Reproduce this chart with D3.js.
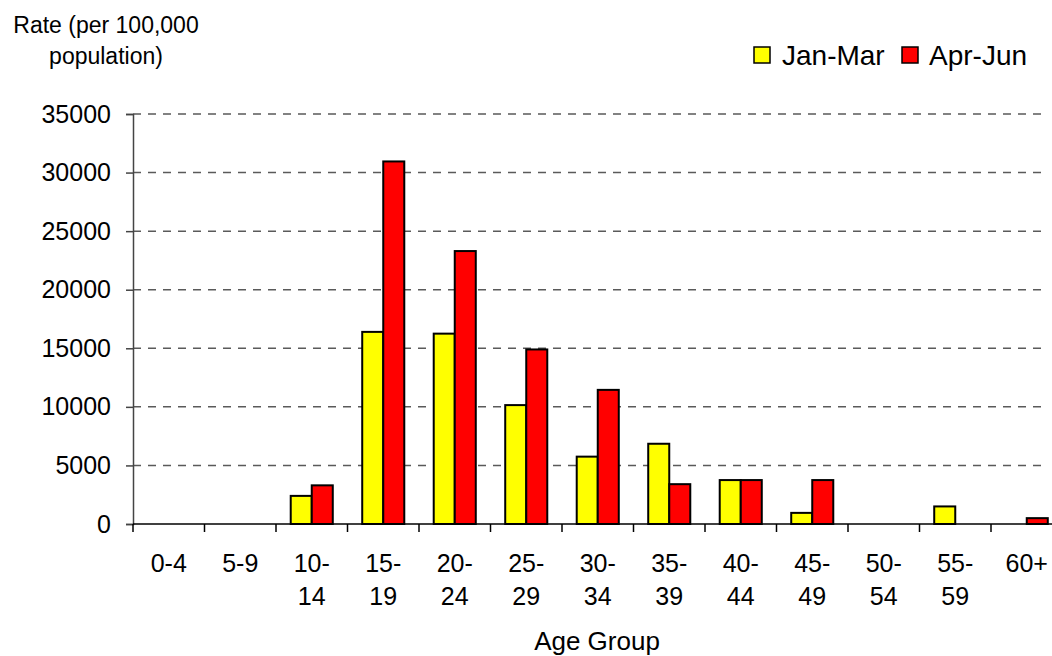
<!DOCTYPE html>
<html>
<head>
<meta charset="utf-8">
<script src="https://cdn.jsdelivr.net/npm/d3@7"></script>
<style>
  html, body { margin: 0; padding: 0; background: #fff; }
  svg { display: block; font-family: "Liberation Sans", Arial, sans-serif; }
</style>
</head>
<body>
<svg id="chart" width="1052" height="656"></svg>
<script>
// Age groups, with two-line labels as shown under the axis
const categories = ["0-4", "5-9", "10-14", "15-19", "20-24", "25-29", "30-34",
                    "35-39", "40-44", "45-49", "50-54", "55-59", "60+"];
const categoryLabels = [["0-4"], ["5-9"], ["10-", "14"], ["15-", "19"], ["20-", "24"],
                        ["25-", "29"], ["30-", "34"], ["35-", "39"], ["40-", "44"],
                        ["45-", "49"], ["50-", "54"], ["55-", "59"], ["60+"]];
const seriesNames = ["Jan-Mar", "Apr-Jun"];
const seriesColors = ["#ffff00", "#ff0000"];
// Rate per 100,000 population
const janMar = [0, 0, 2400, 16400, 16250, 10150, 5750, 6850, 3750, 950, 0, 1500, 0];
const aprJun = [0, 0, 3300, 30950, 23300, 14900, 11450, 3400, 3750, 3750, 0, 0, 500];
const yTicks = [0, 5000, 10000, 15000, 20000, 25000, 30000, 35000];

const svg = d3.select("#chart");
const plot = { left: 133, bottom: 524, top: 114, right: 1062.5 };

const x0 = d3.scaleBand().domain(categories).range([plot.left, plot.right]).padding(0);
const x1 = d3.scaleBand().domain(seriesNames).range([0, x0.bandwidth()])
  .paddingInner(0).paddingOuter(0.7);
const y = d3.scaleLinear().domain([0, 35000]).range([plot.bottom, plot.top]);

const rows = categories.map((c, i) => ({ cat: c, values: [janMar[i], aprJun[i]] }));

// dashed horizontal gridlines
svg.append("g")
  .selectAll("line")
  .data(yTicks.filter(t => t > 0))
  .join("line")
  .attr("x1", plot.left).attr("x2", 1047)
  .attr("y1", d => y(d)).attr("y2", d => y(d))
  .attr("stroke", "#5a5a5a")
  .attr("stroke-width", 1.5)
  .attr("stroke-dasharray", "8,7");

// bars
const groups = svg.append("g")
  .selectAll("g")
  .data(rows)
  .join("g")
  .attr("transform", d => `translate(${x0(d.cat)},0)`);

groups.selectAll("rect")
  .data(d => d.values.map((v, k) => ({ name: seriesNames[k], value: v, k })).filter(e => e.value > 0))
  .join("rect")
  .attr("x", d => x1(d.name))
  .attr("width", x1.bandwidth())
  .attr("y", d => y(d.value))
  .attr("height", d => y(0) - y(d.value))
  .attr("fill", d => seriesColors[d.k])
  .attr("stroke", "#000")
  .attr("stroke-width", 2);

// y axis
const yAxis = svg.append("g")
  .attr("transform", `translate(${plot.left},0)`)
  .call(d3.axisLeft(y).tickValues(yTicks).tickSize(7).tickPadding(15).tickFormat(d3.format("d")));
yAxis.select(".domain").attr("stroke", "#444").attr("stroke-width", 1.5);
yAxis.selectAll(".tick line").attr("stroke", "#444").attr("stroke-width", 1.5);
yAxis.selectAll(".tick text")
  .attr("font-size", 25)
  .attr("font-family", "Liberation Sans, Arial, sans-serif")
  .attr("fill", "#000");

// x axis: baseline, tick marks between groups, two-line labels
const xAxis = svg.append("g").attr("transform", `translate(0,${plot.bottom})`);
xAxis.append("line")
  .attr("x1", plot.left).attr("x2", plot.right)
  .attr("stroke", "#000").attr("stroke-width", 1.5);
xAxis.selectAll("line.sep")
  .data(categories)
  .join("line")
  .attr("class", "sep")
  .attr("x1", d => x0(d)).attr("x2", d => x0(d))
  .attr("y1", 0).attr("y2", 8)
  .attr("stroke", "#000").attr("stroke-width", 1.5);

const labels = xAxis.selectAll("text.cat")
  .data(categories)
  .join("text")
  .attr("class", "cat")
  .attr("text-anchor", "middle")
  .attr("font-size", 25)
  .attr("fill", "#000");
labels.selectAll("tspan")
  .data((d, i) => categoryLabels[i].map(s => ({ s, x: x0(d) + x0.bandwidth() / 2 })))
  .join("tspan")
  .attr("x", d => d.x)
  .attr("y", (d, j) => 48 + j * 33)
  .text(d => d.s);

// axis titles
svg.append("text")
  .attr("x", 597).attr("y", 650)
  .attr("text-anchor", "middle")
  .attr("font-size", 26)
  .text("Age Group");

const yTitle = svg.append("text")
  .attr("text-anchor", "middle")
  .attr("font-size", 23);
yTitle.append("tspan").attr("x", 106).attr("y", 33).text("Rate (per 100,000");
yTitle.append("tspan").attr("x", 106).attr("y", 64).text("population)");

// legend
const legend = svg.append("g");
const legendItems = [{ x: 754, tx: 782 }, { x: 902, tx: 929 }];
seriesNames.forEach((name, k) => {
  legend.append("rect")
    .attr("x", legendItems[k].x).attr("y", 47)
    .attr("width", 16).attr("height", 16)
    .attr("fill", seriesColors[k])
    .attr("stroke", "#000").attr("stroke-width", 1.5);
  legend.append("text")
    .attr("x", legendItems[k].tx).attr("y", 65)
    .attr("font-size", 28)
    .text(name);
});
</script>
</body>
</html>
